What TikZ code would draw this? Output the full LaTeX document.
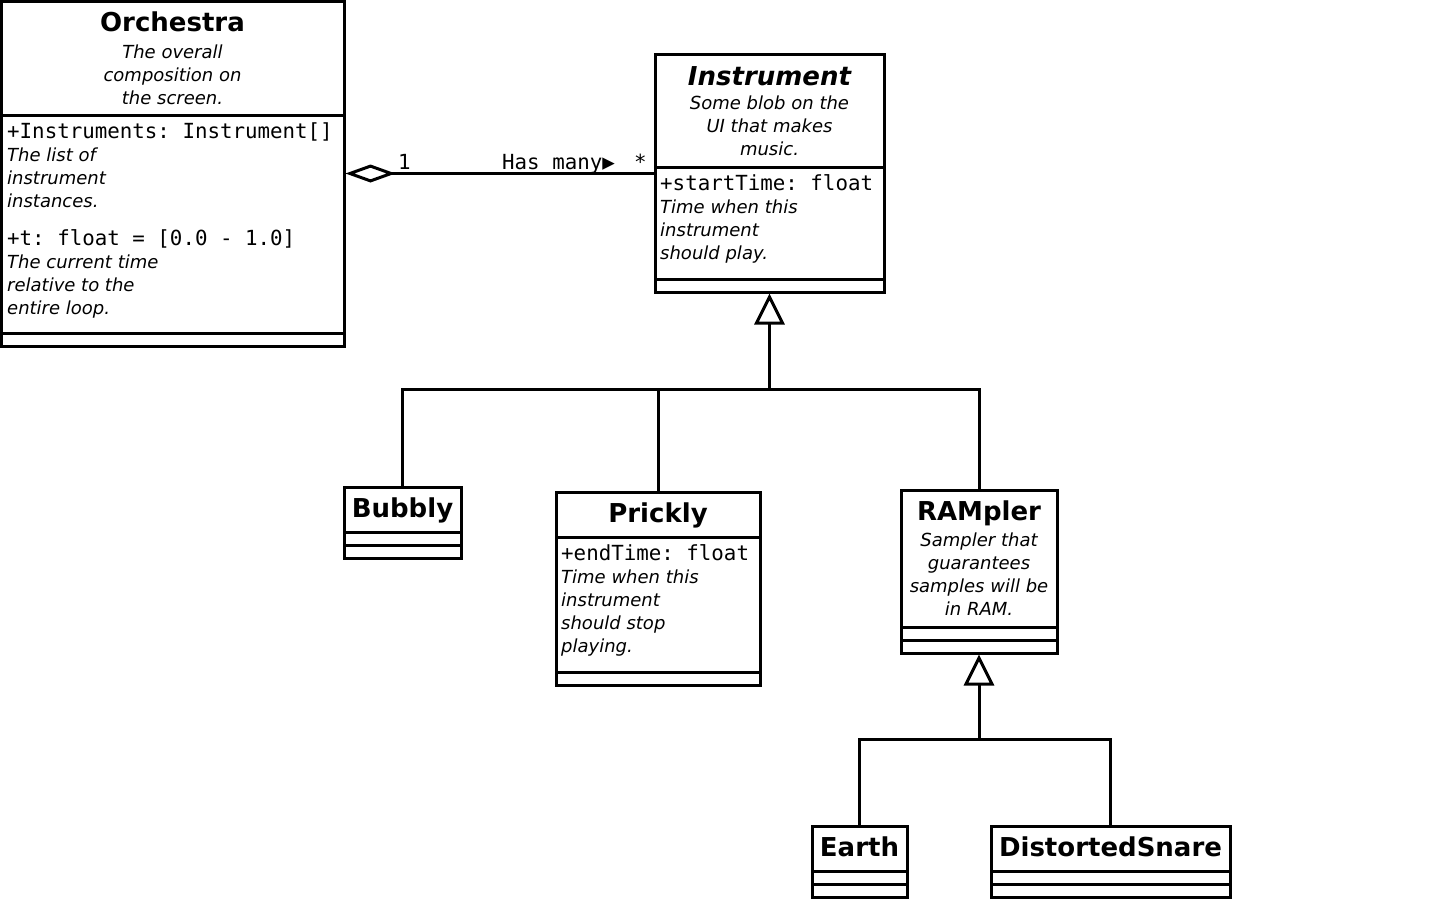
\documentclass[tikz,border=0pt]{standalone}
\usepackage{fontspec}
\setmainfont{DejaVu Sans}[ItalicFont={DejaVu Sans Oblique},BoldFont={DejaVu Sans Bold},BoldItalicFont={DejaVu Sans Bold Oblique}]
\setmonofont{DejaVu Sans Mono}
\usetikzlibrary{arrows.meta}
\tikzset{
  compartment/.style={draw, line width=3pt, inner sep=0pt, minimum width=#1},
  classname/.style={font=\fontsize{26}{30}\selectfont\bfseries, inner sep=0pt, text height=20pt, text depth=5pt},
  abstractname/.style={font=\fontsize{26}{30}\selectfont\bfseries\itshape, inner sep=0pt},
  classnote/.style={font=\fontsize{18}{23}\selectfont\itshape, inner sep=0pt},
  attrline/.style={font=\fontsize{20.8}{23}\selectfont\ttfamily, inner sep=0pt},
  link/.style={line width=3pt},
  inherits/.style={link, -{Triangle[open, length=31pt, width=30pt]}},
  aggregate/.style={link, {Diamond[open, length=50pt, width=18pt]}-},
}
\begin{document}
\begin{tikzpicture}[x=1pt, y=-1pt]
  \useasboundingbox (0,0) rectangle (1440,900);
  % Orchestra
  \node[compartment=343pt, minimum height=114pt] (orch-name) at (172.5,58) {};
  \node[compartment=343pt, minimum height=218pt] (orch-attr) at (172.5,224) {};
  \node[compartment=343pt, minimum height=13pt] (orch-ops) at (172.5,339.5) {};
  \node[classname, text height=, text depth=, anchor=base] (orch-title) at (172.5,31.5) {Orchestra};
  \node[classnote, align=center, anchor=base] (orch-note) at (172.5,104) {The overall\\composition on\\the screen.};
  \node[attrline, anchor=base west] (orch-a1) at (7,138) {+Instruments: Instrument[]};
  \node[classnote, align=left, anchor=base west] (orch-a1-note) at (7,207.5) {The list of\\instrument\\instances.};
  \node[attrline, anchor=base west] (orch-a2) at (7,245) {+t: float = [0.0 - 1.0]};
  \node[classnote, align=left, anchor=base west] (orch-a2-note) at (7,314) {The current time\\relative to the\\entire loop.};
  % Instrument
  \node[compartment=229pt, minimum height=113pt] (instr-name) at (769.5,110.5) {};
  \node[compartment=229pt, minimum height=112pt] (instr-attr) at (769.5,223) {};
  \node[compartment=229pt, minimum height=13pt] (instr-ops) at (769.5,285.5) {};
  \node[abstractname, anchor=base] (instr-title) at (769.5,85) {Instrument};
  \node[classnote, align=center, anchor=base] (instr-note) at (769.5,155) {Some blob on the\\UI that makes\\music.};
  \node[attrline, anchor=base west] (instr-a1) at (660,190) {+startTime: float};
  \node[classnote, align=left, anchor=base west] (instr-a1-note) at (660,259) {Time when this\\instrument\\should play.};
  % Bubbly
  \node[compartment=117pt, minimum height=45pt, classname] (bubbly-name) at (402.5,509.5) {Bubbly};
  \node[compartment=117pt, minimum height=13pt] (bubbly-attr) at (402.5,538.5) {};
  \node[compartment=117pt, minimum height=13pt] (bubbly-ops) at (402.5,551.5) {};
  % Prickly
  \node[compartment=204pt, minimum height=45pt, classname] (prickly-name) at (658,514.5) {Prickly};
  \node[compartment=204pt, minimum height=135pt] (prickly-attr) at (658,604.5) {};
  \node[compartment=204pt, minimum height=13pt] (prickly-ops) at (658,678.5) {};
  \node[attrline, anchor=base west] (prickly-a1) at (561,560.5) {+endTime: float};
  \node[classnote, align=left, anchor=base west] (prickly-a1-note) at (561,652) {Time when this\\instrument\\should stop\\playing.};
  % RAMpler
  \node[compartment=156pt, minimum height=137pt] (rampler-name) at (979,558.5) {};
  \node[compartment=156pt, minimum height=13pt] (rampler-attr) at (979,633.5) {};
  \node[compartment=156pt, minimum height=13pt] (rampler-ops) at (979,646.5) {};
  \node[classname, text height=, text depth=, anchor=base] (rampler-title) at (979,520.5) {RAMpler};
  \node[classnote, align=center, anchor=base] (rampler-note) at (979,615.5) {Sampler that\\guarantees\\samples will be\\in RAM.};
  % Earth and DistortedSnare
  \node[compartment=95pt, minimum height=45pt, classname] (earth-name) at (859.5,848.5) {Earth};
  \node[compartment=95pt, minimum height=13pt] (earth-attr) at (859.5,877.5) {};
  \node[compartment=95pt, minimum height=13pt] (earth-ops) at (859.5,890.5) {};
  \node[compartment=239pt, minimum height=45pt, classname] (snare-name) at (1110.5,848.5) {DistortedSnare};
  \node[compartment=239pt, minimum height=13pt] (snare-attr) at (1110.5,877.5) {};
  \node[compartment=239pt, minimum height=13pt] (snare-ops) at (1110.5,890.5) {};
  % aggregation
  \coordinate (has-many) at ([yshift=-8pt]instr-attr.north west);
  \draw[aggregate] (orch-attr.east |- has-many) -- (has-many);
  \node[attrline, anchor=base west] (mult-one) at (398,169.5) {1};
  \node[attrline, anchor=base west] (assoc-name) at (502,169.5) {Has many▶};
  \node[attrline, anchor=base west] (mult-many) at (634,169.5) {*};
  % generalization
  \coordinate (instr-fork) at (769.5,389);
  \draw[inherits] (instr-fork) -- (instr-ops.south);
  \draw[link] (bubbly-name.north) |- (instr-fork) -| (rampler-name.north);
  \draw[link] (prickly-name.north) -- (prickly-name.north |- instr-fork);
  \coordinate (rampler-fork) at (979,739);
  \draw[inherits] (rampler-fork) -- (rampler-ops.south);
  \draw[link] (earth-name.north) |- (rampler-fork) -| (snare-name.north);
\end{tikzpicture}
\end{document}
